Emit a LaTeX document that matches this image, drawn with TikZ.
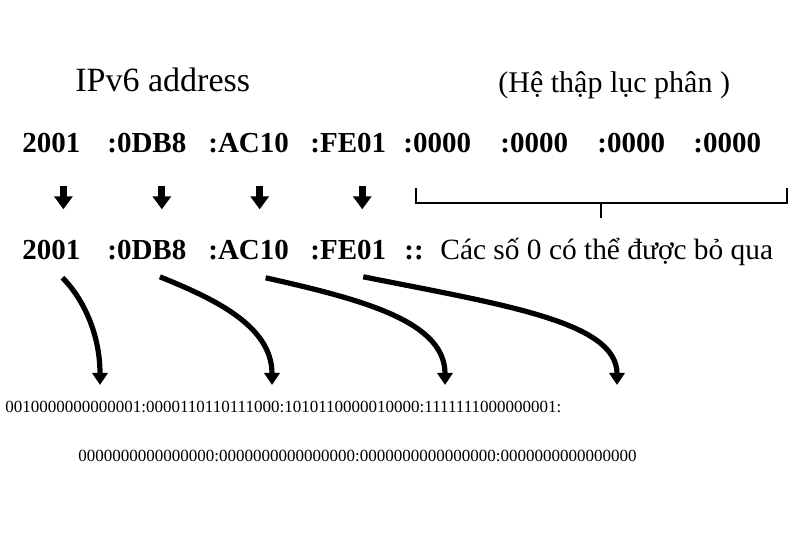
\documentclass[tikz,border=0pt]{standalone}
\usepackage{fontspec}
\setmainfont{Liberation Serif}
\usetikzlibrary{arrows.meta,positioning,calc}
\tikzset{
    hexword/.style={
           inner sep=0pt,
           anchor=base west,
           font=\fontsize{14.5}{16}\selectfont\bfseries,
           text=black
           },
    titletext/.style={
           inner sep=0pt,
           anchor=base west,
           font=\fontsize{17}{20}\selectfont
           },
    binword/.style={
           inner sep=0pt,
           anchor=base west,
           font=\fontsize{8.5}{10}\selectfont
           },
    downarrow/.style={draw=black, line width=3.5pt, -{Triangle[width=9pt,length=6.5pt]}},
    bitarrow/.style={draw=black, line width=2.6pt, -{Triangle[width=7.5pt,length=6pt]}},
}

\begin{document}
\begin{tikzpicture}[x=0.5pt,y=-0.5pt]
\useasboundingbox (0,0) rectangle (800,533);

% Titles
\node[titletext] (TITLE) at (75,92) {IPv6 address};
\node[titletext, font=\fontsize{15}{18}\selectfont] (HEXNOTE) at (498,93) {(Hệ thập lục phân )};

% Row: full address
\node[hexword] (HA) at (22,153) {2001};
\node[hexword] (HB) at (107,153) {:0DB8};
\node[hexword] (HC) at (208,153) {:AC10};
\node[hexword] (HD) at (310,153) {:FE01};
\node[hexword] (ZA) at (403,153) {:0000};
\node[hexword] (ZB) at (500,153) {:0000};
\node[hexword] (ZC) at (597,153) {:0000};
\node[hexword] (ZD) at (693,153) {:0000};

% Row: short address
\node[hexword] (SA) at (22,260) {2001};
\node[hexword] (SB) at (107,260) {:0DB8};
\node[hexword] (SC) at (208,260) {:AC10};
\node[hexword] (SD) at (310,260) {:FE01};
\node[hexword] (DCOLON) at (404,260) {::};
\node[titletext, font=\fontsize{14.7}{17}\selectfont] (SKIPNOTE) at (440,260) {Các số 0 có thể được bỏ qua};

% Binary lines
\node[binword] (BINA) at (5,413) {0010000000000001:0000110110111000:1010110000010000:1111111000000001:};
\node[binword] (BINB) at (78,462) {0000000000000000:0000000000000000:0000000000000000:0000000000000000};

% bracket over the zero groups
\draw[line width=1pt] (416,188) -- (416,203) -- (787,203) -- (787,188);
\draw[line width=1pt] (601,203) -- (601,218);

% arrow tips above the bits
\coordinate (TA) at (100,385);
\coordinate (TB) at (272,385);
\coordinate (TC) at (445,385);
\coordinate (TD) at (617,385);

\path ($(HA.south)+(12,32)$) edge[downarrow] ($(SA.north)+(12,-31)$)
($(HB.south)+(15,32)$) edge[downarrow] ($(SB.north)+(15,-31)$)
($(HC.south)+(11,32)$) edge[downarrow] ($(SC.north)+(11,-31)$)
($(HD.south)+(14,32)$) edge[downarrow] ($(SD.north)+(14,-31)$)
;

\draw[bitarrow] ($(SA.south)+(11,17)$) .. controls (80,295) and (100,330) .. (TA);
\draw[bitarrow] ($(SB.south)+(13,16)$) .. controls (212,298) and (272,325) .. (TB);
\draw[bitarrow] ($(SC.south)+(17,17)$) .. controls (365,300) and (445,322) .. (TC);
\draw[bitarrow] ($(SD.south)+(15,16)$) .. controls (505,305) and (617,322) .. (TD);

\end{tikzpicture}
\end{document}
